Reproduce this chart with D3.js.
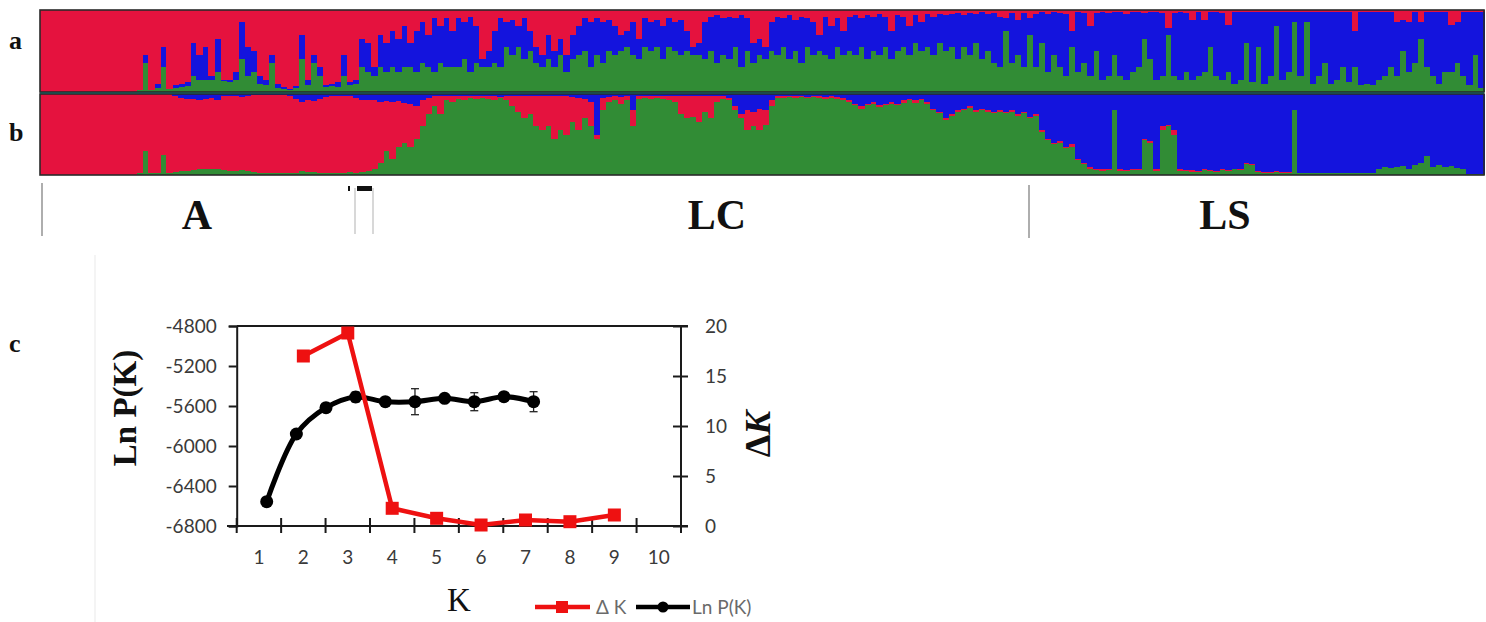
<!DOCTYPE html>
<html><head><meta charset="utf-8">
<script src="https://cdn.jsdelivr.net/npm/d3@7"></script>
<style>
body{margin:0;background:#fff;}
svg{display:block;}
</style></head>
<body>
<svg id="chart" width="1486" height="622"></svg>
<script>
// ---------- STRUCTURE bar plot data (percent per individual group, left to right) ----------
// panel a: red (top), green (bottom), blue = remainder
const aRed = [100,100,100,100,100,100,100,100,100,100,100,100,100,100,100,100,97,55,97,90,
45,96,92,90,88,40,55,45,80,35,85,85,75,15,45,50,80,85,55,90,
94,96,93,30,85,55,70,92,90,88,55,88,85,35,40,70,30,40,25,35,
20,40,25,15,30,10,20,10,25,10,15,8,20,60,50,25,10,15,12,20,
10,25,45,55,30,50,35,55,30,20,10,15,10,15,12,20,30,25,15,35,
10,15,12,20,10,15,12,25,45,40,15,8,6,10,8,10,6,10,40,35,
45,15,8,10,6,12,8,10,15,30,8,20,10,25,8,6,10,6,8,5,
8,25,6,8,20,6,15,5,8,5,6,5,4,6,4,5,3,5,4,8,
10,4,12,4,10,5,3,5,3,4,5,25,3,4,20,4,3,4,3,3,
5,3,3,4,3,3,4,22,4,3,4,12,3,12,3,3,4,18,3,3,
3,3,3,2,2,2,2,2,2,2,2,2,2,2,2,2,2,2,25,3,
2,2,2,3,3,15,12,15,3,15,3,3,3,3,18,15,3,3,2,2];
const aGreen = [0,0,0,0,0,0,0,0,0,0,0,0,0,0,0,0,3,35,3,5,
30,4,5,6,7,20,15,15,15,25,13,12,15,40,20,25,10,8,35,5,
4,3,5,40,8,35,20,6,7,6,20,8,10,30,25,20,30,25,30,25,
30,30,25,35,30,25,35,30,30,30,40,25,35,30,30,35,30,55,45,55,
40,50,35,30,40,30,45,25,40,45,50,30,45,35,50,45,50,55,45,40,
55,50,55,40,55,50,45,50,45,45,40,50,35,45,40,55,30,50,35,45,
40,50,45,55,40,50,35,55,45,50,45,40,55,45,50,45,55,40,50,45,
55,40,50,55,45,60,50,55,45,60,50,55,40,55,45,60,40,50,35,30,
75,35,45,30,70,30,60,25,45,30,20,55,25,35,20,50,15,20,45,20,
15,25,30,65,40,15,20,70,20,15,25,15,20,25,55,20,15,25,10,15,
60,12,55,10,20,80,15,25,85,20,85,10,20,35,10,15,30,12,30,8,
10,8,15,20,30,20,50,25,35,65,30,20,10,25,25,35,20,8,45,5];
// panel b: blue (top), green (bottom), red = remainder
const bBlue = [0,0,0,0,0,0,0,0,0,0,0,0,0,0,0,0,0,0,0,0,
0,0,3,5,6,6,7,6,5,7,3,2,2,4,2,1,1,1,1,1,
1,2,6,10,8,9,6,4,3,2,2,3,5,7,8,8,10,9,10,9,
11,12,15,8,5,3,2,2,3,3,3,3,3,3,3,3,4,3,3,3,
3,3,3,3,3,3,3,3,4,5,6,10,50,5,4,3,4,3,20,3,
3,3,3,3,3,3,3,3,3,3,3,3,3,3,5,15,25,20,22,18,
20,8,3,3,3,3,3,4,3,3,4,3,4,5,8,12,15,12,10,14,
12,10,12,8,6,8,6,10,18,22,30,25,20,18,15,20,18,20,22,20,
22,20,25,22,28,25,45,55,60,58,65,62,80,85,90,92,93,92,20,93,
94,93,92,55,58,93,40,38,45,93,94,94,95,93,94,95,93,94,92,93,
85,87,95,96,96,95,96,96,20,98,98,98,98,98,98,98,98,98,98,98,
98,98,93,90,91,90,89,92,88,85,76,90,88,90,89,91,93,99,99,99];
const bGreen = [0,0,0,0,0,0,0,0,0,0,0,0,0,0,0,0,2,30,3,3,
25,3,4,5,5,6,7,7,8,7,6,5,5,6,5,4,3,3,3,3,
2,2,3,5,4,4,3,3,3,3,3,4,3,4,5,8,15,30,20,35,
40,35,45,60,75,85,75,92,90,94,93,95,94,95,94,93,95,93,85,78,
70,75,60,55,60,45,55,50,65,55,70,60,45,80,90,92,88,93,60,94,
95,94,95,94,92,90,75,70,72,65,78,70,90,94,92,80,70,55,60,55,
62,85,95,95,96,95,96,95,96,95,94,95,94,93,90,86,82,86,88,84,
86,88,86,89,92,89,92,88,80,76,68,73,78,80,83,78,80,78,76,78,
76,78,73,76,70,73,53,43,38,40,33,35,18,13,7,6,5,6,80,5,
5,6,6,43,40,5,55,60,50,5,5,4,4,6,5,4,6,5,7,6,
14,12,4,3,3,4,3,3,80,2,2,2,2,2,2,2,2,2,2,2,
2,2,7,10,9,10,11,8,12,15,24,10,12,10,11,9,7,1,1,1];
const groupNames = ["A", "LC", "LS"];

// ---------- Evanno plot data ----------
const kValues = [1,2,3,4,5,6,7,8,9,10];
const lnPK = [-6557,-5880,-5617,-5510,-5557,-5557,-5523,-5557,-5507,-5557];
const lnPKsd = [15,20,20,50,25,130,20,90,25,100];
const deltaKk = [2,3,4,5,6,7,8,9];
const deltaK = [17.0,19.3,1.77,0.77,0.1,0.6,0.43,1.1];
const leftTicks = [-6800,-6400,-6000,-5600,-5200,-4800];
const rightTicks = [0,5,10,15,20];

const COL = {red:"#e5123e", green:"#318c35", blue:"#1414dd"};
const svg = d3.select("#chart");

// ---------- STRUCTURE panels ----------
const N = aRed.length;
const xs = d3.scaleBand().domain(d3.range(N)).range([40,1484]).paddingInner(0);

function panel(rows, keys, y0, y1){
  const y = d3.scaleLinear().domain([0,100]).range([y1,y0]);
  const series = d3.stack().keys(keys)(rows);
  const g = svg.append("g").attr("shape-rendering","crispEdges");
  g.selectAll("g").data(series).join("g").attr("fill",d=>COL[d.key])
    .selectAll("rect").data(d=>d).join("rect")
    .attr("x",(d,i)=>xs(i)).attr("width",xs.bandwidth()+0.6)
    .attr("y",d=>y(d[1])).attr("height",d=>Math.max(0,y(d[0])-y(d[1])));
  svg.append("rect").attr("x",40).attr("y",y0).attr("width",1444).attr("height",y1-y0)
    .attr("fill","none").attr("stroke","#2a2a2a").attr("stroke-width",1.6);
}
const rowsA = d3.range(N).map(i=>({green:aGreen[i], blue:Math.max(0,100-aRed[i]-aGreen[i]), red:aRed[i]}));
const rowsB = d3.range(N).map(i=>({green:bGreen[i], red:Math.max(0,100-bBlue[i]-bGreen[i]), blue:bBlue[i]}));
panel(rowsA, ["green","blue","red"], 10, 92);
panel(rowsB, ["green","red","blue"], 94, 175);
svg.append("line").attr("x1",40).attr("x2",1484).attr("y1",93).attr("y2",93)
  .attr("stroke","#1d4a4a").attr("stroke-width",2.2);

// panel letters
const serif = "'Liberation Serif','DejaVu Serif',serif";
[["a",49],["b",141],["c",352]].forEach(([t,y])=>{
  svg.append("text").attr("x",9).attr("y",y).text(t)
    .attr("font-family",serif).attr("font-weight","bold").attr("font-size",26).attr("fill","#111");
});

// group separators and labels
[[42,183,236],[1029,185,238]].forEach(([x,a,b])=>svg.append("line").attr("x1",x).attr("x2",x).attr("y1",a).attr("y2",b).attr("stroke","#9a9a9a").attr("stroke-width",1.6));
[[355,188,234],[373,188,234]].forEach(([x,a,b])=>svg.append("line").attr("x1",x).attr("x2",x).attr("y1",a).attr("y2",b).attr("stroke","#cfcfcf").attr("stroke-width",1.6));
svg.append("rect").attr("x",348).attr("y",186).attr("width",2).attr("height",5).attr("fill","#111");
svg.append("rect").attr("x",357).attr("y",186).attr("width",15).attr("height",5).attr("fill","#111");
[[197,"A"],[717,"LC"],[1225,"LS"]].forEach(([x,t])=>{
  svg.append("text").attr("x",x).attr("y",229).attr("text-anchor","middle").text(t)
    .attr("font-family",serif).attr("font-weight","bold").attr("font-size",42).attr("fill","#111");
});

// faint frame line of panel c
svg.append("line").attr("x1",95).attr("x2",95).attr("y1",255).attr("y2",622).attr("stroke","#f0f0f0").attr("stroke-width",1.5);

// ---------- Evanno plot ----------
const sans = "Lato,'Open Sans','Liberation Sans',sans-serif";
const xb = d3.scaleBand().domain(kValues).range([236.7,681]);
const xBlack = d3.scaleLinear().domain([1,10]).range([266.7,533.6]);
const yL = d3.scaleLinear().domain([-6800,-4800]).range([526,326]);
const yR = d3.scaleLinear().domain([0,20]).range([526,326]);
const axisCol = "#1a1a1a";

// frame lines
svg.append("line").attr("x1",236.7).attr("x2",688).attr("y1",yL(-4800)).attr("y2",yL(-4800)).attr("stroke",axisCol).attr("stroke-width",2);

// left axis
const gL = svg.append("g").attr("transform","translate(236.7,0)")
  .call(d3.axisLeft(yL).tickValues(leftTicks).tickSize(8).tickPadding(12).tickFormat(d=>String(d)));
// right axis
const gR = svg.append("g").attr("transform","translate(681,0)")
  .call(d3.axisRight(yR).tickValues(rightTicks).tickSize(7).tickPadding(17).tickFormat(d=>String(d)));
gR.selectAll(".tick line").attr("x1",-8);
// bottom axis
const gB = svg.append("g").attr("transform","translate(0,526)")
  .call(d3.axisBottom(xb).tickSize(0).tickPadding(25));
gB.select(".domain").attr("d","M227,0H688");
const bounds = d3.range(1,11).map(i=>236.7+xb.step()*i).concat([236.7]);
gB.selectAll(".bt").data(bounds).join("line").attr("class","bt")
  .attr("x1",d=>d).attr("x2",d=>d).attr("y1",-8).attr("y2",7).attr("stroke",axisCol).attr("stroke-width",2);

[gL,gR,gB].forEach(g=>{
  g.select(".domain").attr("stroke",axisCol).attr("stroke-width",2);
  g.selectAll(".tick line").attr("stroke",axisCol).attr("stroke-width",2);
  g.selectAll("text").attr("font-family",sans).attr("font-size",19).attr("fill","#3a3a3a");
});
gR.select(".domain").attr("d","M0,326V531");

// black series (Ln P(K)) with error bars
const errG = svg.append("g").attr("stroke","#222").attr("stroke-width",1.3);
kValues.forEach((k,i)=>{
  const x = xBlack(k), t = yL(lnPK[i]-lnPKsd[i]), b = yL(lnPK[i]+lnPKsd[i]);
  errG.append("line").attr("x1",x).attr("x2",x).attr("y1",t).attr("y2",b);
  errG.append("line").attr("x1",x-4).attr("x2",x+4).attr("y1",t).attr("y2",t);
  errG.append("line").attr("x1",x-4).attr("x2",x+4).attr("y1",b).attr("y2",b);
});
svg.append("path").datum(kValues.map((k,i)=>[xBlack(k),yL(lnPK[i])]))
  .attr("d",d3.line().curve(d3.curveCatmullRom.alpha(0.5))).attr("fill","none").attr("stroke","#000").attr("stroke-width",5);
svg.selectAll(".bpt").data(kValues).join("circle").attr("class","bpt")
  .attr("cx",k=>xBlack(k)).attr("cy",(k,i)=>yL(lnPK[i])).attr("r",6.5).attr("fill","#000");

// red series (Delta K)
const redPts = deltaKk.map((k,i)=>[xb(k)+xb.bandwidth()/2, yR(deltaK[i])]);
svg.append("path").datum(redPts).attr("d",d3.line()).attr("fill","none").attr("stroke","#ee1111").attr("stroke-width",4.5);
svg.selectAll(".rpt").data(redPts).join("rect").attr("class","rpt")
  .attr("x",d=>d[0]-6.5).attr("y",d=>d[1]-6.5).attr("width",13).attr("height",13).attr("fill","#ee1111");

// axis titles
svg.append("text").attr("transform","translate(136,408) rotate(-90)").attr("text-anchor","middle")
  .attr("font-family",serif).attr("font-weight","bold").attr("font-size",33).attr("fill","#111").text("Ln P(K)");
svg.append("text").attr("x",459).attr("y",611).attr("text-anchor","middle")
  .attr("font-family",serif).attr("font-size",33).attr("fill","#111").text("K");
const dk = svg.append("text").attr("transform","translate(770,434) rotate(-90)").attr("text-anchor","middle")
  .attr("font-family",serif).attr("font-weight","bold").attr("font-size",36).attr("fill","#111");
dk.append("tspan").text("Δ");
dk.append("tspan").attr("font-style","italic").text("K");

// legend
const lg = svg.append("g");
lg.append("line").attr("x1",535).attr("x2",590).attr("y1",607).attr("y2",607).attr("stroke","#ee1111").attr("stroke-width",4.5);
lg.append("rect").attr("x",556).attr("y",601).attr("width",12).attr("height",12).attr("fill","#ee1111");
lg.append("text").attr("x",596).attr("y",614).text("Δ K").attr("font-family",sans).attr("font-size",19).attr("fill","#6a6a6a");
lg.append("line").attr("x1",636).attr("x2",690).attr("y1",607).attr("y2",607).attr("stroke","#000").attr("stroke-width",4.5);
lg.append("circle").attr("cx",663).attr("cy",607).attr("r",5.5).attr("fill","#000");
lg.append("text").attr("x",692).attr("y",614).text("Ln P(K)").attr("font-family",sans).attr("font-size",19).attr("fill","#6a6a6a");
</script>
</body></html>
